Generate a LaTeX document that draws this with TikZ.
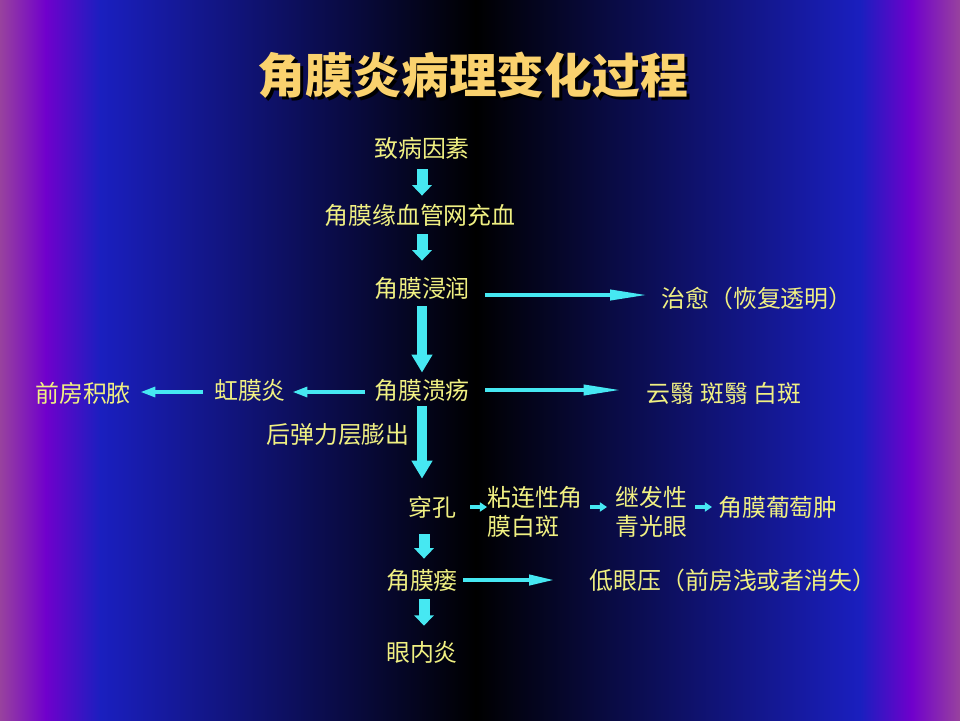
\documentclass[tikz,border=0pt]{standalone}
\usepackage{fontspec}
\newfontfamily\cjk{Noto Sans CJK SC}
\usetikzlibrary{arrows.meta}
\definecolor{bgpink}{RGB}{152,66,158}
\definecolor{bgpurple}{RGB}{112,0,204}
\definecolor{bgblue}{RGB}{26,31,191}
\definecolor{txtyellow}{RGB}{240,240,130}
\definecolor{ttlyellow}{RGB}{250,210,110}
\definecolor{arrcyan}{RGB}{70,232,242}
\begin{document}
\begin{tikzpicture}[x=0.25mm,y=-0.25mm,
  txt/.style={inner sep=0pt,text=txtyellow,font=\cjk\fontsize{17}{20.5}\selectfont},
  ttl/.style={inner sep=0pt,text=ttlyellow,font=\cjk\bfseries\fontsize{34}{40}\selectfont},
  vsmall/.style={draw=arrcyan,line width=2.75mm,-{Triangle[length=2.6mm,width=4.8mm]}},
  vbig/.style={draw=arrcyan,line width=2.5mm,-{Triangle[length=4.5mm,width=5mm]}},
  hlong/.style={draw=arrcyan,line width=1.2mm,-{Triangle[length=10mm,width=2.4mm]}},
  hleft/.style={draw=arrcyan,line width=1.2mm,-{Triangle[length=3.8mm,width=2.4mm]}},
  hsmall/.style={draw=arrcyan,line width=1mm,-{Triangle[length=1.8mm,width=2.3mm]}}]
\useasboundingbox (0,0) rectangle (960,720);
\foreach \xa/\xb/\ca/\cb in {0/46/bgpink/bgpurple,45.5/101/bgpurple/bgblue,100.5/476/bgblue/black,
  475.5/861/black/bgblue,860.5/912/bgblue/bgpurple,911.5/960/bgpurple/bgpink}
\shade[left color=\ca,right color=\cb] (\xa,0) rectangle (\xb,720);
% title
\node[ttl,text=black] (shadow) at (476,78) {角膜炎病理变化过程};
\node[ttl] (title) at (473,75) {角膜炎病理变化过程};
% main column
\node[txt] (cause) at (422,148) {致病因素};
\node[txt] (limbal) at (420,215) {角膜缘血管网充血};
\node[txt] (infil) at (422,288) {角膜浸润};
\node[txt] (heal) at (757,298) {治愈（恢复透明）};
\node[txt] (ulcer) at (422,390) {角膜溃疡};
\node[txt] (iritis) at (250,390) {虹膜炎};
\node[txt] (hypopyon) at (83,393) {前房积脓};
\node[txt] (scar) at (724,393) {云翳 斑翳 白斑};
\node[txt] (descem) at (338,435) {后弹力层膨出};
\node[txt] (perf) at (432,507) {穿孔};
\node[txt,align=left,anchor=west] (leuco) at (487,512) {粘连性角\\膜白斑};
\node[txt,align=left,anchor=west] (glauc) at (615,512) {继发性\\青光眼};
\node[txt] (staph) at (778,507) {角膜葡萄肿};
\node[txt] (fistula) at (422,580) {角膜瘘};
\node[txt] (hypot) at (733,580) {低眼压（前房浅或者消失）};
\node[txt] (endo) at (422,652) {眼内炎};
% arrows
\draw[vsmall,shorten <=2.5mm,shorten >=2mm] (cause.south) -- (cause.south |- limbal.north);
\draw[vsmall,shorten <=2mm,shorten >=4mm] (limbal.south -| infil) -- (infil.north);
\draw[hlong] ([shift={(15,7)}]infil.east) -- ([shift={(-11,-3)}]heal.west);
\draw[vbig,shorten <=1.75mm,shorten >=1.5mm] (infil) -- (ulcer);
\draw[hleft] ([shift={(-9,2)}]ulcer.west) -- ([shift={(6,2)}]iritis.east);
\draw[hleft] ([shift={(-11,2)}]iritis.west) -- ([shift={(9,-1)}]hypopyon.east);
\draw[hlong] ([shift={(15,0)}]ulcer.east) -- ([shift={(-23,-3)}]scar.west);
\draw[vbig,shorten <=1.25mm,shorten >=4.25mm] (ulcer.south) -- (ulcer.south |- perf.north);
\draw[hsmall] ([shift={(14,0)}]perf.east) -- ([shift={(0,-5)}]leuco.west);
\draw[hsmall] ([shift={(7,-5)}]leuco.east) -- ([shift={(-8,-5)}]glauc.west);
\draw[hsmall] ([shift={(8,-5)}]glauc.east) -- ([shift={(-6,0)}]staph.west);
\draw[vsmall,shorten <=4mm,shorten >=2.5mm] ([xshift=0.5mm]fistula.north |- perf.south) -- ([xshift=0.5mm]fistula.north);
\draw[hlong,-{Triangle[length=6.8mm,width=2.4mm]}] ([shift={(5,0)}]fistula.east) -- ([shift={(-33,0)}]hypot.west);
\draw[vsmall,shorten <=2mm,shorten >=3.75mm] ([xshift=0.5mm]fistula.south) -- ([xshift=0.5mm]endo.north);
\end{tikzpicture}
\end{document}
